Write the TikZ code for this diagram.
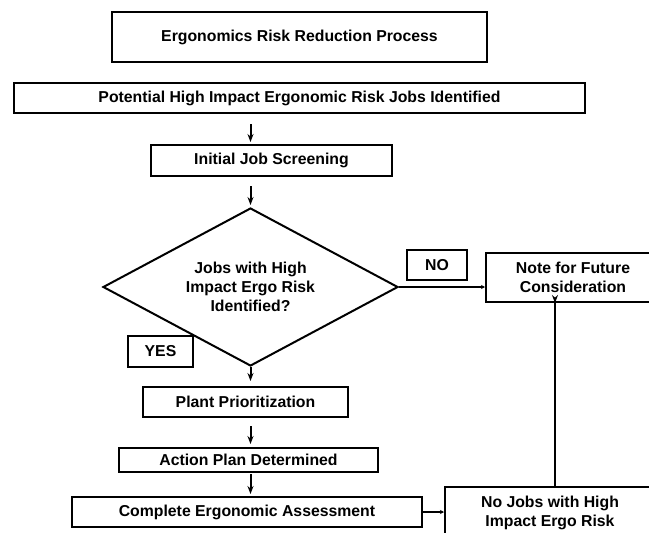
\documentclass[tikz,border=0pt]{standalone}
\usepackage{fontspec}
\setmainfont{Liberation Sans}
\usepackage{tikz}
\usetikzlibrary{arrows.meta,shapes.geometric,calc}
\tikzset{
  box/.style={draw=black, line width=2pt, align=center, inner sep=0pt, font=\fontsize{15.8}{19}\selectfont\bfseries},
  dec/.style={diamond, aspect=1.87, draw=black, line width=2pt, align=center, inner sep=0pt, font=\fontsize{15.8}{19}\selectfont\bfseries},
  tag/.style={box, minimum height=30pt},
  arr/.style={-{Stealth[length=8pt,width=6pt]}, line width=2pt},
  link/.style={-{Stealth[length=4pt,width=4pt]}, line width=2pt},
  back/.style={-{Stealth[length=8pt,width=6pt,reversed]}, line width=2pt},
}
\begin{document}
\begin{tikzpicture}[x=1pt,y=-1pt]
    \useasboundingbox (0,0) rectangle (649,533);
    \clip (0,0) rectangle (649,533);
    \node[box, minimum width=375pt, minimum height=50pt] (title) at (299.5,37) {Ergonomics Risk Reduction Process};
    \node[box, minimum width=571pt, minimum height=30pt] (pot) at (299.5,98) {Potential High Impact Ergonomic Risk Jobs Identified};
    \node[box, minimum width=241pt, minimum height=31pt] (scr) at (271.5,160.5) {Initial Job Screening};
    \node[dec, minimum width=295pt, minimum height=158pt] (dec) at (250.5,287) {Jobs with High\\Impact Ergo Risk\\Identified?};
    \node[tag, minimum width=60pt] (no) at (437,265) {NO};
    \node[box, minimum width=174pt, minimum height=49pt] (note) at (573,277.5) {Note for Future\\Consideration};
    \node[tag, minimum width=65pt, minimum height=31pt] (yes) at (160.5,351.5) {YES};
    \node[box, minimum width=205pt, minimum height=30pt] (prio) at (245.5,402) {Plant Prioritization};
    \node[box, minimum width=259pt, minimum height=24pt] (plan) at (248.5,460) {Action Plan Determined};
    \node[box, minimum width=350pt, minimum height=30pt] (assess) at (247,512) {Complete Ergonomic Assessment};
    \node[box, minimum width=210pt, minimum height=52pt] (nojob) at (550,513) {No Jobs with High\\Impact Ergo Risk};
    \coordinate (drop) at ($(note.south)+(-18,0)$);
    \draw[arr] ($(pot.south -| dec.north)+(0,10)$) -- ($(scr.north -| dec.north)+(0,-2)$);
    \draw[arr] ($(scr.south -| dec.north)+(0,9)$) -- ($(dec.north)+(0,-2)$);
    \draw[arr] (dec.south) -- ($(prio.north -| dec.south)+(0,-5)$);
    \draw[arr] ($(prio.south -| dec.south)+(0,8)$) -- ($(plan.north -| dec.south)+(0,-3)$);
    \draw[arr] ($(plan.south -| dec.south)+(0,1)$) -- ($(assess.north -| dec.south)+(0,-2)$);
    \draw[link] (dec.east) -- (dec.east -| note.west);
    \draw[back] (drop |- nojob.north) -- ($(drop)+(0,-8)$);
    \draw[link] (assess.east) -- (assess.east -| nojob.west);
\end{tikzpicture}
\end{document}
